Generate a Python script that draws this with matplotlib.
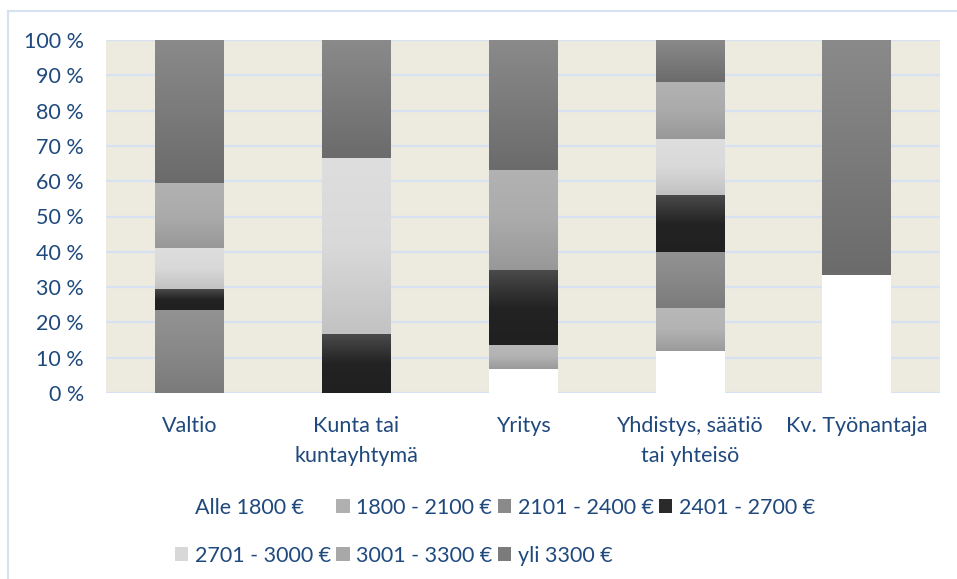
import matplotlib
matplotlib.use("Agg")
import matplotlib.pyplot as plt
import numpy as np
from matplotlib.colors import LinearSegmentedColormap
from matplotlib.lines import Line2D
from matplotlib.patches import Patch

categories = ["Valtio", "Kunta tai\nkuntayhtymä", "Yritys", "Yhdistys, säätiö\ntai yhteisö", "Kv. Työnantaja"]
series_names = ["Alle 1800 €", "1800 - 2100 €", "2101 - 2400 €", "2401 - 2700 €",
                "2701 - 3000 €", "3001 - 3300 €", "yli 3300 €"]
alle_1800 = [0, 0, 6.7, 12, 33.3]
s1800_2100 = [0, 0, 6.9, 12, 0]
s2101_2400 = [23.5, 0, 0, 16, 0]
s2401_2700 = [5.9, 16.7, 21.2, 16, 0]
s2701_3000 = [11.8, 50.0, 0, 16, 0]
s3001_3300 = [18.4, 0, 28.4, 16, 0]
yli_3300 = [40.4, 33.3, 36.8, 12, 66.7]
values = [alle_1800, s1800_2100, s2101_2400, s2401_2700, s2701_3000, s3001_3300, yli_3300]
yticks = list(range(0, 101, 10))

# gradient stops (top, middle, bottom) per series
grad = [
    ("#ffffff", "#ffffff", "#ffffff"),
    ("#b8b8b8", "#b3b3b3", "#9a9a9a"),
    ("#939393", "#888888", "#7b7b7b"),
    ("#4a4a4a", "#232323", "#202020"),
    ("#dedede", "#d9d9d9", "#c2c2c2"),
    ("#b2b2b2", "#ababab", "#989898"),
    ("#8a8a8a", "#7b7b7b", "#6b6b6b"),
]
legend_colors = ["#ffffff", "#b0b0b0", "#8a8a8a", "#2a2a2a", "#d8d8d8", "#a8a8a8", "#7b7b7b"]

text_color = "#1f497d"
font = "Lato"
fs = 15.5

fig = plt.figure(figsize=(9.57, 5.79), dpi=100)
ax = fig.add_axes([106/957, 1-393/579, (940-106)/957, (393-40)/579])
ax.set_facecolor("#edeae0")

x = np.arange(len(categories))
bw = 0.41
bottom = np.zeros(len(categories))
ax.set_xlim(-0.5, len(categories) - 0.5)
ax.set_ylim(0, 100)
for i, vals in enumerate(values):
    vals = np.array(vals, dtype=float)
    bars = ax.bar(x, vals, bw, bottom=bottom, color=legend_colors[i], linewidth=0, zorder=2)
    cmap = LinearSegmentedColormap.from_list(f"g{i}", list(grad[i]))
    g = np.linspace(0, 1, 256).reshape(-1, 1)
    for b in bars:
        if b.get_height() <= 0:
            continue
        x0, y0 = b.get_x(), b.get_y()
        w, h = b.get_width(), b.get_height()
        im = ax.imshow(g, cmap=cmap, extent=[x0, x0 + w, y0, y0 + h], origin="upper",
                       aspect="auto", zorder=3, interpolation="bilinear")
        im.set_clip_path(b)
    bottom += vals
ax.set_xlim(-0.5, len(categories) - 0.5)
ax.set_ylim(0, 100)

ax.set_yticks(yticks)
ax.set_yticklabels([f"{t} %" for t in yticks])
ax.set_xticks(x)
ax.set_xticklabels(categories)
ax.yaxis.grid(True, color="#d6e2f1", linewidth=1.6, zorder=1)
ax.set_axisbelow(True)
for s in ax.spines.values():
    s.set_visible(False)
ax.tick_params(axis="both", length=0, colors=text_color, labelsize=fs)
ax.tick_params(axis="y", pad=16)
ax.tick_params(axis="x", pad=16.5)
for lab in ax.get_yticklabels():
    lab.set_fontfamily(font)
    lab.set_color(text_color)
for lab in ax.get_xticklabels():
    lab.set_fontfamily(font)
    lab.set_color(text_color)
    lab.set_linespacing(1.6)

# legend: order for column-major fill so rows read left to right
handles = [Patch(facecolor=c, edgecolor="none") for c in legend_colors]
order = [0, 4, 1, 5, 2, 6, 3]
leg = fig.legend([handles[k] for k in order], [series_names[k] for k in order],
                 ncol=4, loc="upper left", bbox_to_anchor=(175/957, 1-498/579),
                 frameon=False, prop={"family": font, "size": fs},
                 handlelength=0.62, handleheight=0.62, handletextpad=0.3,
                 columnspacing=0.25, labelspacing=1.3, labelcolor=text_color,
                 borderaxespad=0, borderpad=0)

# chart border lines (top and left)
fig.add_artist(Line2D([8/957, 1], [1-11/579, 1-11/579], color="#d6e2f1", linewidth=1.5))
fig.add_artist(Line2D([8/957, 8/957], [0, 1-11/579], color="#d6e2f1", linewidth=1.5))

fig.savefig("out.png", dpi=100)
